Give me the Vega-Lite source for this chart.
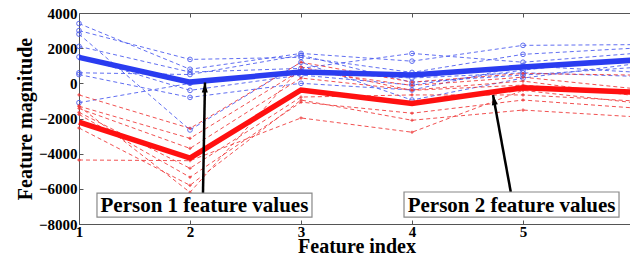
{
  "$schema": "https://vega.github.io/schema/vega-lite/v6.json",
  "width": 555,
  "height": 211,
  "autosize": "none",
  "padding": {"left": 79, "top": 13, "right": 0, "bottom": 32},
  "background": "white",
  "config": {"view": {"stroke": null}, "font": "Liberation Serif"},
  "datasets": {
    "thin": [
      {"g": "B1", "p": "b", "x": 1, "y": 3400}, {"g": "B1", "p": "b", "x": 2, "y": 800}, {"g": "B1", "p": "b", "x": 3, "y": 1700}, {"g": "B1", "p": "b", "x": 4, "y": 1260}, {"g": "B1", "p": "b", "x": 5, "y": 2160}, {"g": "B1", "p": "b", "x": 6, "y": 2200},
      {"g": "B2", "p": "b", "x": 1, "y": 3000}, {"g": "B2", "p": "b", "x": 2, "y": 1360}, {"g": "B2", "p": "b", "x": 3, "y": 1480}, {"g": "B2", "p": "b", "x": 4, "y": 620}, {"g": "B2", "p": "b", "x": 5, "y": 1650}, {"g": "B2", "p": "b", "x": 6, "y": 2000},
      {"g": "B3", "p": "b", "x": 1, "y": 2100}, {"g": "B3", "p": "b", "x": 2, "y": 640}, {"g": "B3", "p": "b", "x": 3, "y": 850}, {"g": "B3", "p": "b", "x": 4, "y": 1700}, {"g": "B3", "p": "b", "x": 5, "y": 1200}, {"g": "B3", "p": "b", "x": 6, "y": 1700},
      {"g": "B4", "p": "b", "x": 1, "y": 1500}, {"g": "B4", "p": "b", "x": 2, "y": -400}, {"g": "B4", "p": "b", "x": 3, "y": 470}, {"g": "B4", "p": "b", "x": 4, "y": -100}, {"g": "B4", "p": "b", "x": 5, "y": 750}, {"g": "B4", "p": "b", "x": 6, "y": 1440},
      {"g": "B5", "p": "b", "x": 1, "y": 600}, {"g": "B5", "p": "b", "x": 2, "y": 500}, {"g": "B5", "p": "b", "x": 3, "y": 1600}, {"g": "B5", "p": "b", "x": 4, "y": 60}, {"g": "B5", "p": "b", "x": 5, "y": 470}, {"g": "B5", "p": "b", "x": 6, "y": 900},
      {"g": "B6", "p": "b", "x": 1, "y": 500}, {"g": "B6", "p": "b", "x": 2, "y": -800}, {"g": "B6", "p": "b", "x": 3, "y": 0}, {"g": "B6", "p": "b", "x": 4, "y": -380}, {"g": "B6", "p": "b", "x": 5, "y": 1000}, {"g": "B6", "p": "b", "x": 6, "y": 640},
      {"g": "B7", "p": "b", "x": 1, "y": 2800}, {"g": "B7", "p": "b", "x": 2, "y": -2650}, {"g": "B7", "p": "b", "x": 3, "y": 1200}, {"g": "B7", "p": "b", "x": 4, "y": -950}, {"g": "B7", "p": "b", "x": 5, "y": 300}, {"g": "B7", "p": "b", "x": 6, "y": 1100},
      {"g": "B8", "p": "b", "x": 1, "y": -1100}, {"g": "B8", "p": "b", "x": 2, "y": 0}, {"g": "B8", "p": "b", "x": 3, "y": 650}, {"g": "B8", "p": "b", "x": 4, "y": 300}, {"g": "B8", "p": "b", "x": 5, "y": 600}, {"g": "B8", "p": "b", "x": 6, "y": 400},
      {"g": "R1", "p": "r", "x": 1, "y": -660}, {"g": "R1", "p": "r", "x": 2, "y": -2560}, {"g": "R1", "p": "r", "x": 3, "y": 1200}, {"g": "R1", "p": "r", "x": 4, "y": 70}, {"g": "R1", "p": "r", "x": 5, "y": 560}, {"g": "R1", "p": "r", "x": 6, "y": 470},
      {"g": "R2", "p": "r", "x": 1, "y": -1300}, {"g": "R2", "p": "r", "x": 2, "y": -3130}, {"g": "R2", "p": "r", "x": 3, "y": 750}, {"g": "R2", "p": "r", "x": 4, "y": -120}, {"g": "R2", "p": "r", "x": 5, "y": 350}, {"g": "R2", "p": "r", "x": 6, "y": -300},
      {"g": "R3", "p": "r", "x": 1, "y": -1430}, {"g": "R3", "p": "r", "x": 2, "y": -3700}, {"g": "R3", "p": "r", "x": 3, "y": 300}, {"g": "R3", "p": "r", "x": 4, "y": -380}, {"g": "R3", "p": "r", "x": 5, "y": 130}, {"g": "R3", "p": "r", "x": 6, "y": -700},
      {"g": "R4", "p": "r", "x": 1, "y": -1650}, {"g": "R4", "p": "r", "x": 2, "y": -4830}, {"g": "R4", "p": "r", "x": 3, "y": -780}, {"g": "R4", "p": "r", "x": 4, "y": -660}, {"g": "R4", "p": "r", "x": 5, "y": -660}, {"g": "R4", "p": "r", "x": 6, "y": -1000},
      {"g": "R5", "p": "r", "x": 1, "y": -1770}, {"g": "R5", "p": "r", "x": 2, "y": -5340}, {"g": "R5", "p": "r", "x": 3, "y": -1070}, {"g": "R5", "p": "r", "x": 4, "y": -1700}, {"g": "R5", "p": "r", "x": 5, "y": -950}, {"g": "R5", "p": "r", "x": 6, "y": -1400},
      {"g": "R6", "p": "r", "x": 1, "y": -2540}, {"g": "R6", "p": "r", "x": 2, "y": -5800}, {"g": "R6", "p": "r", "x": 3, "y": -950}, {"g": "R6", "p": "r", "x": 4, "y": -2100}, {"g": "R6", "p": "r", "x": 5, "y": -1520}, {"g": "R6", "p": "r", "x": 6, "y": -1900},
      {"g": "R7", "p": "r", "x": 1, "y": -4360}, {"g": "R7", "p": "r", "x": 2, "y": -4400}, {"g": "R7", "p": "r", "x": 3, "y": -1970}, {"g": "R7", "p": "r", "x": 4, "y": -2780}, {"g": "R7", "p": "r", "x": 5, "y": -400}, {"g": "R7", "p": "r", "x": 6, "y": -1100},
      {"g": "R8", "p": "r", "x": 1, "y": -1300}, {"g": "R8", "p": "r", "x": 2, "y": -6200}, {"g": "R8", "p": "r", "x": 3, "y": 930}, {"g": "R8", "p": "r", "x": 4, "y": -400}, {"g": "R8", "p": "r", "x": 5, "y": -100}, {"g": "R8", "p": "r", "x": 6, "y": -600}
    ],
    "thick": [
      {"p": "b", "x": 1, "y": 1480}, {"p": "b", "x": 2, "y": 70}, {"p": "b", "x": 3, "y": 640}, {"p": "b", "x": 4, "y": 470}, {"p": "b", "x": 5, "y": 930}, {"p": "b", "x": 6, "y": 1320},
      {"p": "r", "x": 1, "y": -2200}, {"p": "r", "x": 2, "y": -4250}, {"p": "r", "x": 3, "y": -380}, {"p": "r", "x": 4, "y": -1150}, {"p": "r", "x": 5, "y": -250}, {"p": "r", "x": 6, "y": -500}
    ],
    "notes": [
      {"label": "Person 1 feature values", "bx1": 1.162, "bx2": 3.099, "by1": -6240, "by2": -7610, "tx": 2.13, "ty": -6925, "ax1": 2.117, "ay1": -6240, "ax2": 2.135, "ay2": 50},
      {"label": "Person 2 feature values", "bx1": 3.928, "bx2": 5.865, "by1": -6180, "by2": -7610, "tx": 4.897, "ty": -6895, "ax1": 4.89, "ay1": -6180, "ax2": 4.73, "ay2": -665}
    ]
  },
  "layer": [
    {
      "data": {"name": "thin"},
      "mark": {"type": "line", "strokeWidth": 1, "strokeDash": [4, 3], "opacity": 0.85},
      "encoding": {
        "x": {"field": "x", "type": "quantitative", "scale": {"domain": [1, 6], "nice": false, "zero": false},
          "axis": {"orient": "bottom", "values": [1, 2, 3, 4, 5], "format": "d", "title": "Feature index", "titleFont": "Liberation Serif", "titleFontWeight": "bold", "titleFontSize": 20, "titleColor": "black", "titlePadding": -3,
            "labelFont": "Liberation Serif", "labelFontWeight": "bold", "labelFontSize": 15, "labelColor": "black", "labelFlush": false, "labelPadding": 4, "tickSize": -4, "tickColor": "#555", "domainColor": "#555", "grid": false}},
        "y": {"field": "y", "type": "quantitative", "scale": {"domain": [-8000, 4000], "nice": false, "zero": false},
          "axis": {"orient": "left", "values": [-8000, -6000, -4000, -2000, 0, 2000, 4000], "format": "d", "title": "Feature magnitude", "titleFont": "Liberation Serif", "titleFontWeight": "bold", "titleFontSize": 20, "titleColor": "black", "titlePadding": 3,
            "labelFont": "Liberation Serif", "labelFontWeight": "bold", "labelFontSize": 15, "labelColor": "black", "labelFlush": false, "labelPadding": 6, "tickSize": -4, "tickColor": "#555", "domainColor": "#555", "grid": false}},
        "color": {"field": "p", "type": "nominal", "scale": {"domain": ["b", "r"], "range": ["#4455ee", "#ee3333"]}, "legend": null},
        "detail": {"field": "g"}
      }
    },
    {
      "data": {"name": "thin"},
      "mark": {"type": "point", "filled": false, "size": 22, "strokeWidth": 1, "opacity": 0.85},
      "transform": [{"filter": "datum.p == 'b'"}],
      "encoding": {
        "x": {"field": "x", "type": "quantitative", "axis": null},
        "y": {"field": "y", "type": "quantitative", "axis": null},
        "color": {"value": "#4455ee"}
      }
    },
    {
      "data": {"name": "thin"},
      "mark": {"type": "point", "filled": true, "size": 10, "shape": "cross", "opacity": 0.85},
      "transform": [{"filter": "datum.p == 'r'"}],
      "encoding": {
        "x": {"field": "x", "type": "quantitative", "axis": null},
        "y": {"field": "y", "type": "quantitative", "axis": null},
        "color": {"value": "#ee3333"}
      }
    },
    {
      "data": {"name": "thick"},
      "mark": {"type": "line", "strokeWidth": 5.5},
      "encoding": {
        "x": {"field": "x", "type": "quantitative",
          "axis": {"orient": "top", "values": [2, 3, 4, 5], "labels": false, "title": null, "tickSize": -4, "tickColor": "#555", "domainColor": "#555", "grid": false}},
        "y": {"field": "y", "type": "quantitative",
          "axis": {"orient": "right", "values": [-8000, -6000, -4000, -2000, 0, 2000, 4000], "labels": false, "title": null, "tickSize": -4, "tickColor": "#555", "domainColor": "#555", "grid": false}},
        "color": {"field": "p", "type": "nominal", "scale": {"domain": ["b", "r"], "range": ["#2a3cf0", "#ff1010"]}, "legend": null}
      }
    },
    {
      "data": {"name": "notes"},
      "mark": {"type": "rule", "strokeWidth": 2.5, "color": "black"},
      "encoding": {
        "x": {"field": "ax1", "type": "quantitative", "axis": null},
        "y": {"field": "ay1", "type": "quantitative", "axis": null},
        "x2": {"field": "ax2"},
        "y2": {"field": "ay2"}
      }
    },
    {
      "data": {"name": "notes"},
      "transform": [{"filter": "datum.label == 'Person 1 feature values'"}],
      "mark": {"type": "point", "shape": "M0,0 L-0.6,2 L0.6,2 Z", "size": 100, "filled": true, "color": "black", "opacity": 1, "angle": 1},
      "encoding": {
        "x": {"field": "ax2", "type": "quantitative", "axis": null},
        "y": {"field": "ay2", "type": "quantitative", "axis": null}
      }
    },
    {
      "data": {"name": "notes"},
      "transform": [{"filter": "datum.label == 'Person 2 feature values'"}],
      "mark": {"type": "point", "shape": "M0,0 L-0.6,2 L0.6,2 Z", "size": 100, "filled": true, "color": "black", "opacity": 1, "angle": -10.5},
      "encoding": {
        "x": {"field": "ax2", "type": "quantitative", "axis": null},
        "y": {"field": "ay2", "type": "quantitative", "axis": null}
      }
    },
    {
      "data": {"name": "notes"},
      "mark": {"type": "rect", "fill": "white", "stroke": "#888", "strokeWidth": 1.2},
      "encoding": {
        "x": {"field": "bx1", "type": "quantitative", "axis": null},
        "x2": {"field": "bx2"},
        "y": {"field": "by1", "type": "quantitative", "axis": null},
        "y2": {"field": "by2"}
      }
    },
    {
      "data": {"name": "notes"},
      "mark": {"type": "text", "font": "Liberation Serif", "fontWeight": "bold", "fontSize": 21, "color": "black", "align": "center", "baseline": "middle", "dy": 1},
      "encoding": {
        "x": {"field": "tx", "type": "quantitative", "axis": null},
        "y": {"field": "ty", "type": "quantitative", "axis": null},
        "text": {"field": "label"}
      }
    }
  ],
  "resolve": {"axis": {"x": "independent", "y": "independent"}, "scale": {"color": "independent"}}
}
